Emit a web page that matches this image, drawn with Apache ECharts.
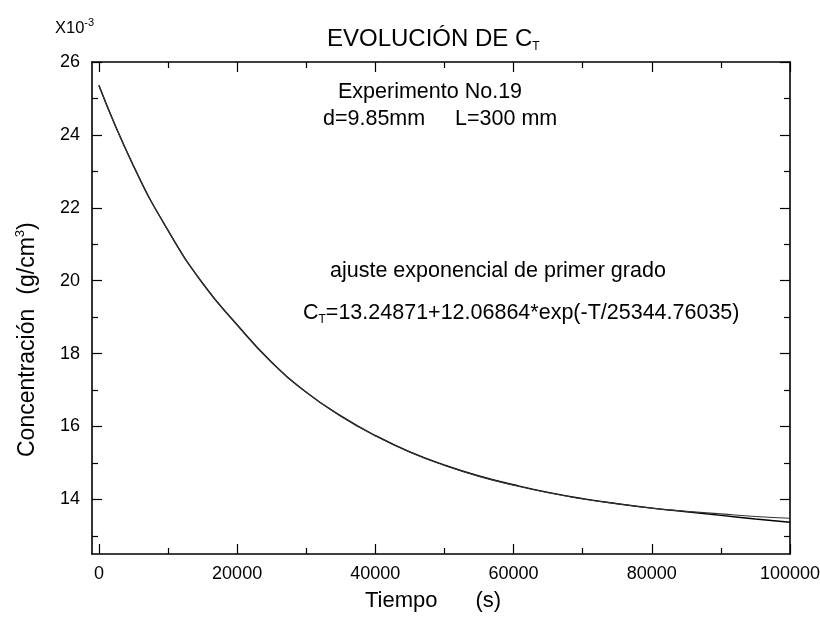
<!DOCTYPE html>
<html>
<head>
<meta charset="utf-8">
<script src="https://cdn.jsdelivr.net/npm/echarts@6/dist/echarts.min.js"></script>
<style>html,body{margin:0;padding:0;background:#fff}#c{width:820px;height:625px}</style>
</head>
<body>
<div id="c"></div>
<script>
// ---- data ----
const tiempo = [0, 5000, 10000, 15000, 20000, 25000, 30000, 35000, 40000, 45000, 50000,
                55000, 60000, 65000, 70000, 75000, 80000, 85000, 90000, 95000, 100000];
const concMedida = [25.36, 23.15, 21.38, 19.93, 18.79, 17.76, 16.94, 16.29, 15.75, 15.30, 14.94,
                    14.64, 14.40, 14.19, 14.02, 13.88, 13.76, 13.66, 13.56, 13.46, 13.37];
const concAjuste = [25.35, 23.15, 21.38, 19.93, 18.78, 17.75, 16.94, 16.28, 15.74, 15.29, 14.93,
                    14.63, 14.39, 14.18, 14.01, 13.88, 13.76, 13.67, 13.60, 13.53, 13.48];
const xMajorTicks = [0, 20000, 40000, 60000, 80000, 100000];
const xMinorTicks = [10000, 30000, 50000, 70000, 90000];
const yMajorTicks = [14, 16, 18, 20, 22, 24, 26];
const yMinorTicks = [13, 15, 17, 19, 21, 23, 25];

const FONT = '"Liberation Sans", Arial, Helvetica, sans-serif';
const BLACK = '#000';

function xAxisDef(pos, ticks, len, showLine, showLabel) {
  return {
    type: 'value', gridIndex: 0, position: pos, min: -1000, max: 100000,
    axisLine: {show: showLine, onZero: false, lineStyle: {color: BLACK, width: 1.6}},
    axisTick: {show: true, inside: true, length: len, customValues: ticks, lineStyle: {color: BLACK, width: 1.2}},
    axisLabel: {show: showLabel, customValues: ticks, margin: 11, fontSize: 18, color: BLACK,
                fontFamily: FONT, formatter: v => String(v)},
    splitLine: {show: false}
  };
}
function yAxisDef(pos, ticks, len, showLine, showLabel) {
  return {
    type: 'value', gridIndex: 0, position: pos, min: 12.5, max: 26,
    axisLine: {show: showLine, onZero: false, lineStyle: {color: BLACK, width: 1.6}},
    axisTick: {show: true, inside: true, length: len, customValues: ticks, lineStyle: {color: BLACK, width: 1.2}},
    axisLabel: {show: showLabel, customValues: ticks, margin: 12, fontSize: 18, color: BLACK,
                fontFamily: FONT, formatter: v => String(v)},
    splitLine: {show: false}
  };
}

const pairs = (xs, ys) => xs.map((x, i) => [x, ys[i]]);

const chart = echarts.init(document.getElementById('c'), null, {renderer: 'canvas'});
chart.setOption({
  backgroundColor: '#fff',
  animation: false,
  grid: {left: 92, right: 30, top: 62, bottom: 71, containLabel: false, outerBoundsMode: 'none'},
  xAxis: [
    xAxisDef('bottom', xMajorTicks, 10, true, true),
    xAxisDef('bottom', xMinorTicks, 6, false, false),
    xAxisDef('top', xMajorTicks, 10, true, false),
    xAxisDef('top', xMinorTicks, 6, false, false)
  ],
  yAxis: [
    yAxisDef('left', yMajorTicks, 10, true, true),
    yAxisDef('left', yMinorTicks, 6, false, false),
    yAxisDef('right', yMajorTicks, 10, true, false),
    yAxisDef('right', yMinorTicks, 6, false, false)
  ],
  series: [
    {name: 'Medida', type: 'line', xAxisIndex: 0, yAxisIndex: 0, data: pairs(tiempo, concMedida),
     showSymbol: false, smooth: 0.5, lineStyle: {color: BLACK, width: 1.4}},
    {name: 'Ajuste', type: 'line', xAxisIndex: 0, yAxisIndex: 0, data: pairs(tiempo, concAjuste),
     showSymbol: false, smooth: 0.5, lineStyle: {color: '#333', width: 1.1}}
  ],
  graphic: [
    {type: 'text', x: 327, y: 39, style: {
      text: '{m|EVOLUCIÓN DE C}{s|T}', align: 'left', verticalAlign: 'middle', fill: BLACK,
      rich: {m: {fontSize: 24, lineHeight: 28, fontFamily: FONT, fill: BLACK},
             s: {fontSize: 12, lineHeight: 12, verticalAlign: 'bottom', fontFamily: FONT, fill: BLACK}}}},
    {type: 'text', x: 55, y: 28, style: {
      text: '{m|X10}{s|-3}', align: 'left', verticalAlign: 'middle', fill: BLACK,
      rich: {m: {fontSize: 16.5, lineHeight: 22, fontFamily: FONT, fill: BLACK},
             s: {fontSize: 11, lineHeight: 11, verticalAlign: 'top', fontFamily: FONT, fill: BLACK}}}},
    {type: 'text', x: 338, y: 92, style: {
      text: 'Experimento No.19', align: 'left', verticalAlign: 'middle', fill: BLACK,
      font: '21.5px ' + FONT}},
    {type: 'text', x: 323, y: 119, style: {
      text: 'd=9.85mm     L=300 mm', align: 'left', verticalAlign: 'middle', fill: BLACK,
      font: '21.5px ' + FONT}},
    {type: 'text', x: 330, y: 271, style: {
      text: 'ajuste exponencial de primer grado', align: 'left', verticalAlign: 'middle', fill: BLACK,
      font: '21.5px ' + FONT}},
    {type: 'text', x: 303, y: 313, style: {
      text: '{m|C}{s|T}{m|=13.24871+12.06864*exp(-T/25344.76035)}', align: 'left', verticalAlign: 'middle', fill: BLACK,
      rich: {m: {fontSize: 21.5, lineHeight: 26, fontFamily: FONT, fill: BLACK},
             s: {fontSize: 12, lineHeight: 12, verticalAlign: 'bottom', fontFamily: FONT, fill: BLACK}}}},
    {type: 'text', x: 365, y: 601, style: {
      text: '{m|Tiempo}{g| }{m|(s)}', align: 'left', verticalAlign: 'middle', fill: BLACK,
      rich: {m: {fontSize: 22, fontFamily: FONT, fill: BLACK},
             g: {fontSize: 22, width: 38, fontFamily: FONT}}}},
    {type: 'text', x: 28, y: 457, rotation: Math.PI / 2, style: {
      text: '{m|Concentración}{g| }{m|(g/cm}{s|3}{m|)}', align: 'left', verticalAlign: 'middle', fill: BLACK,
      rich: {m: {fontSize: 23, lineHeight: 28, fontFamily: FONT, fill: BLACK},
             g: {fontSize: 23, width: 14, fontFamily: FONT},
             s: {fontSize: 13, lineHeight: 13, verticalAlign: 'top', fontFamily: FONT, fill: BLACK}}}}
  ]
});
</script>
</body>
</html>
